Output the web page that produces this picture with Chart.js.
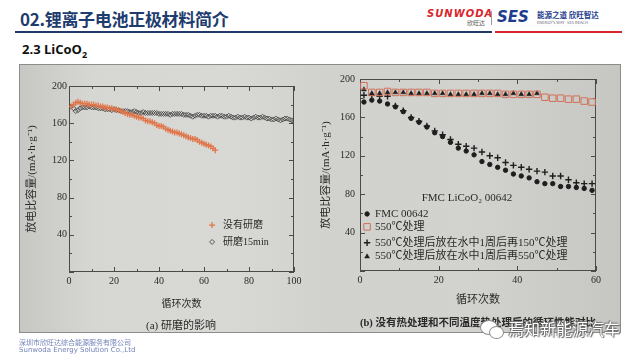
<!DOCTYPE html>
<html><head><meta charset="utf-8">
<script src="https://cdn.jsdelivr.net/npm/chart.js@4.4.1/dist/chart.umd.min.js"></script>
<style>
html,body{margin:0;padding:0;}
body{width:640px;height:360px;position:relative;overflow:hidden;background:#fff;font-family:'Noto Sans CJK SC','Noto Sans',sans-serif;}
.abs{position:absolute;white-space:nowrap;}
#title{left:20px;top:7px;font-size:17px;font-weight:700;color:#1e3c6e;letter-spacing:-0.3px;line-height:24px;}
#bl{left:15px;top:31px;width:477px;height:2px;background:#22386b;}
#rl{left:495px;top:31px;width:127px;height:2px;background:#d9262c;}
#sub{left:22px;top:40px;font-size:13px;font-weight:700;color:#111;font-family:'Open Sans','Noto Sans',sans-serif;line-height:18px;}
#photo{left:19px;top:64px;width:602px;height:269px;box-sizing:border-box;border:1px solid #8c8c8a;
 background:linear-gradient(90deg,#c7c7c3 0%,#d6d6d2 12%,#d8d8d4 35%,#d1d1cd 52%,#d2d2ce 75%,#c6c6c2 100%);}
canvas{position:absolute;}
#cA{left:19px;top:65px;}
#cB{left:320px;top:65px;}
.cap{font-family:'Liberation Serif','Noto Sans CJK SC',serif;color:#2a2a2a;text-align:center;}
</style></head>
<body>
<div id="title" class="abs">02.锂离子电池正极材料简介</div>
<div id="bl" class="abs"></div><div id="rl" class="abs"></div>
<div class="abs" style="left:427px;top:8px;font:italic 700 10px 'DejaVu Sans';color:#d8262c;letter-spacing:1px;">SUNWODA</div>
<div class="abs" style="left:467px;top:18px;font-size:6px;color:#555;">欣旺达</div>
<div class="abs" style="left:491px;top:11px;width:1px;height:14px;background:#999;"></div>
<div class="abs" style="left:497px;top:8px;font:italic 900 15px 'DejaVu Sans';color:#1e3c8c;letter-spacing:0px;line-height:18px;">SES</div>
<div class="abs" style="left:537px;top:10px;font-size:7.5px;font-weight:700;color:#1e3c8c;line-height:9px;">能源之道 欣旺智达</div>
<div class="abs" style="left:537px;top:20px;font-size:4px;color:#667;line-height:5px;">ENERGY'S WAY &nbsp; SES REACH</div>
<div id="sub" class="abs">2.3 LiCoO<sub style="font-size:9px;">2</sub></div>
<div id="photo" class="abs"></div>
<canvas id="cA" width="301" height="268"></canvas>
<canvas id="cB" width="303" height="268"></canvas>
<div class="abs cap" style="left:81px;top:316px;width:200px;font-size:11px;">(a) 研磨的影响</div>
<div class="abs cap" style="left:328px;top:314px;width:300px;font-size:10.5px;font-weight:700;">(b) 没有热处理和不同温度热处理后的循环性能对比</div>
<div class="abs" style="left:19px;top:338px;font-size:7px;color:#7283b8;line-height:8px;">深圳市欣旺达综合能源服务有限公司</div>
<div class="abs" style="left:19px;top:346px;font-size:7px;color:#7283b8;line-height:8px;font-family:'DejaVu Sans';">Sunwoda Energy Solution Co.,Ltd</div>
<div class="abs" style="left:480px;top:320px;width:16px;height:13px;border-radius:50%;border:1.5px solid #8a8a8a;background:#fff;"></div>
<div class="abs" style="left:489px;top:326px;width:13px;height:11px;border-radius:50%;border:1.5px solid #8a8a8a;background:#fff;"></div>
<div class="abs" style="left:508px;top:318px;font-size:16px;color:#fff;line-height:20px;text-shadow:0 0 1px #555,1px 1px 1px #666,-1px -1px 1px #777;">焉知新能源汽车</div>
<script>
// ---------- data: chart (a) ----------
const cyclesA = [1,2,3,4,5,6,7,8,9,10,11,12,13,14,15,16,17,18,19,20,21,22,23,24,25,26,27,28,29,30,31,32,33,34,35,36,37,38,39,40,41,42,43,44,45,46,47,48,49,50,51,52,53,54,55,56,57,58,59,60,61,62,63,64,65,66,67,68,69,70,71,72,73,74,75,76,77,78,79,80,81,82,83,84,85,86,87,88,89,90,91,92,93,94,95,96,97,98,99,100];
const noGrind = [178,180,182,183,182,181,181,181,180,180,180,179,179,178,178,177,177,176,176,175,175,174,173,172,171,170,169,169,168,167,166,166,165,163,162,162,161,160,158,157,157,156,154,153,152,151,150,150,149,148,147,146,145,144,143,143,142,140,139,138,137,136,135,133,131];
const grind15 = [178,176,173,174,176,177,177,177,178,177,177,177,176,176,176,175,175,175,174,175,174,174,173,173,173,173,172,172,173,172,171,171,172,171,171,171,171,171,171,170,170,170,170,170,169,170,170,170,170,170,169,169,169,168,167,168,169,169,168,168,168,167,168,168,168,167,168,168,167,167,168,167,166,166,167,166,166,167,166,166,165,166,167,166,166,167,166,165,165,164,164,165,164,163,164,165,165,164,163,162];
const seriesA = ['没有研磨','研磨15min'];
const xTicksA = [0,20,40,60,80,100];
const yTicks = [40,80,120,160,200];
// ---------- data: chart (b) ----------
const cyclesB = [1,3,5,7,9,11,13,15,17,19,21,23,25,27,29,31,33,35,37,39,41,43,45,47,49,51,53,55,57,59];
const fmc = [176,178,177,174,171,166,159,155,150,144,140,134,128,125,121,114,111,108,105,101,99,97,93,91,91,88,88,87,86,84];
const t550 = [193,186,186,187,186,186,186,186,186,185,185,185,185,185,185,185,185,185,184,184,184,184,184,181,180,180,179,179,177,176];
const t150 = [183,183,182,182,172,167,160,156,151,146,142,137,132,130,128,124,120,118,113,110,108,106,104,103,99,99,95,92,91,91];
const t550b = [189,185,185,186,186,186,185,185,185,185,185,184,184,184,184,185,185,184,184,185,184,184,185];
const seriesB = ['FMC 00642','550℃处理','550℃处理后放在水中1周后再150℃处理','550℃处理后放在水中1周后再550℃处理'];
const xTicksB = [0,20,40,60];

const SERIF = "'Liberation Serif','Noto Sans CJK SC',serif";
const TXT = '#2a2a2a';
const pts = (xs, ys) => ys.map((v,i)=>({x:xs[i], y:v}));

const frame = {
  id:'frame',
  beforeDatasetsDraw(chart){
    const {ctx, chartArea:a, scales:{x,y}} = chart;
    ctx.save();
    ctx.strokeStyle = '#4a4a4a'; ctx.lineWidth = 1;
    ctx.strokeRect(Math.round(a.left)+0.5, Math.round(a.top)+0.5, Math.round(a.width)-1, Math.round(a.height)-1);
    const xv = x.ticks.map(t=>t.value), yv = y.ticks.map(t=>t.value);
    const mark = (vals, sc, isX) => {
      for (let i=0;i<vals.length;i++){
        const list = [[vals[i],5]];
        if (i<vals.length-1) list.push([(vals[i]+vals[i+1])/2,3]);
        list.forEach(([v,L])=>{
          const p = Math.round(sc.getPixelForValue(v))+0.5;
          ctx.beginPath();
          if (isX){ ctx.moveTo(p,a.bottom); ctx.lineTo(p,a.bottom-L); ctx.moveTo(p,a.top); ctx.lineTo(p,a.top+L); }
          else { ctx.moveTo(a.left,p); ctx.lineTo(a.left+L,p); ctx.moveTo(a.right,p); ctx.lineTo(a.right-L,p); }
          ctx.stroke();
        });
      }
    };
    mark(xv,x,true); mark(yv,y,false);
    ctx.restore();
  }
};

function makeLegend(cfg){
  return {
    id:'inlegend',
    afterDatasetsDraw(chart){
      const {ctx, scales:{x,y}} = chart;
      ctx.save();
      ctx.font = cfg.font; ctx.textBaseline = 'middle'; ctx.fillStyle = TXT;
      if (cfg.title){
        ctx.textAlign = 'center';
        ctx.fillText(cfg.title.text, x.getPixelForValue(cfg.title.x), y.getPixelForValue(cfg.title.y));
      }
      ctx.textAlign = 'left';
      cfg.items.forEach(it=>{
        const ds = chart.data.datasets[it.ds];
        const px = x.getPixelForValue(cfg.x), py = y.getPixelForValue(it.y);
        ctx.save();
        ctx.strokeStyle = ds.borderColor; ctx.fillStyle = ds.backgroundColor; ctx.lineWidth = ds.borderWidth;
        Chart.helpers.drawPoint(ctx, {pointStyle: ds.pointStyle, radius: ds.pointRadius, borderWidth: ds.borderWidth, rotation: 0}, px, py);
        ctx.restore();
        ctx.fillStyle = TXT;
        ctx.fillText(ds.label, px + cfg.gap, py);
      });
      ctx.restore();
    }
  };
}

function axes(opt){
  return {
    x: {type:'linear', min:opt.xmin, max:opt.xmax,
        afterBuildTicks: s => { s.ticks = opt.xTicks.map(v=>({value:v})); },
        afterFit: s => { s.height = opt.xh; },
        grid:{display:false, drawTicks:false}, border:{display:false},
        ticks:{font:{family:SERIF,size:10}, color:TXT, padding:3, maxRotation:0, autoSkip:false},
        title:{display:true, text:'循环次数', color:TXT, font:{family:SERIF,size:opt.xtSize}, padding:{top:0,bottom:opt.xtPad}}},
    y: {type:'linear', min:0, max:200,
        afterBuildTicks: s => { s.ticks = [0].concat(yTicks).map(v=>({value:v})); },
        afterFit: s => { s.width = opt.yw; },
        grid:{display:false, drawTicks:false}, border:{display:false},
        ticks:{font:{family:SERIF,size:10}, color:TXT, padding:opt.ypad, callback:v => v===0 ? '' : v},
        title:{display:true, text:'放电比容量/(mA·h·g⁻¹)', color:TXT, font:{family:SERIF,size:11}, padding:{top:opt.ytPad,bottom:0}}}
  };
}

const common = {responsive:false, animation:false, devicePixelRatio:1,
  plugins:{legend:{display:false}, tooltip:{enabled:false}}};

new Chart(document.getElementById('cA'), {
  type:'scatter',
  data:{datasets:[
    {label:seriesA[0], data:pts(cyclesA,noGrind), pointStyle:'cross', pointRadius:3, borderWidth:1.3, borderColor:'#e0764a', backgroundColor:'#e0764a'},
    {label:seriesA[1], data:pts(cyclesA,grind15), pointStyle:'rectRot', pointRadius:2.5, borderWidth:0.9, borderColor:'#4a4a4a', backgroundColor:'rgba(0,0,0,0)'}
  ]},
  options:Object.assign({}, common, {
    layout:{padding:{left:0,right:26,top:21,bottom:0}},
    scales:axes({xmin:0,xmax:100,xTicks:xTicksA,xh:61,xtSize:10,xtPad:23,yw:50,ypad:2,ytPad:7})
  }),
  plugins:[frame, makeLegend({font:"10px "+SERIF, x:63.6, gap:11, items:[{ds:0,y:50.5},{ds:1,y:32.3}]})]
});

new Chart(document.getElementById('cB'), {
  type:'scatter',
  data:{datasets:[
    {label:seriesB[0], data:pts(cyclesB,fmc), pointStyle:'circle', pointRadius:2.2, borderWidth:1, borderColor:'#1e1e1e', backgroundColor:'#1e1e1e'},
    {label:seriesB[1], data:pts(cyclesB,t550), pointStyle:'rect', pointRadius:4.6, borderWidth:1, borderColor:'#d2705a', backgroundColor:'rgba(0,0,0,0)'},
    {label:seriesB[2], data:pts(cyclesB,t150), pointStyle:'cross', pointRadius:3.2, borderWidth:1.4, borderColor:'#1e1e1e', backgroundColor:'#1e1e1e'},
    {label:seriesB[3], data:pts(cyclesB,t550b), pointStyle:'triangle', pointRadius:2.8, borderWidth:0.5, borderColor:'#1e1e1e', backgroundColor:'#1e1e1e'}
  ]},
  options:Object.assign({}, common, {
    layout:{padding:{left:0,right:27,top:14,bottom:0}},
    scales:axes({xmin:0,xmax:60,xTicks:xTicksB,xh:62,xtSize:11,xtPad:26,yw:40,ypad:5,ytPad:0})
  }),
  plugins:[frame, makeLegend({font:"11px "+SERIF, x:1.8, gap:8,
    title:{text:'FMC LiCoO₂ 00642', x:27.2, y:76},
    items:[{ds:0,y:59.4},{ds:1,y:46},{ds:2,y:29.5},{ds:3,y:15}]})]
});
</script>
</body></html>
